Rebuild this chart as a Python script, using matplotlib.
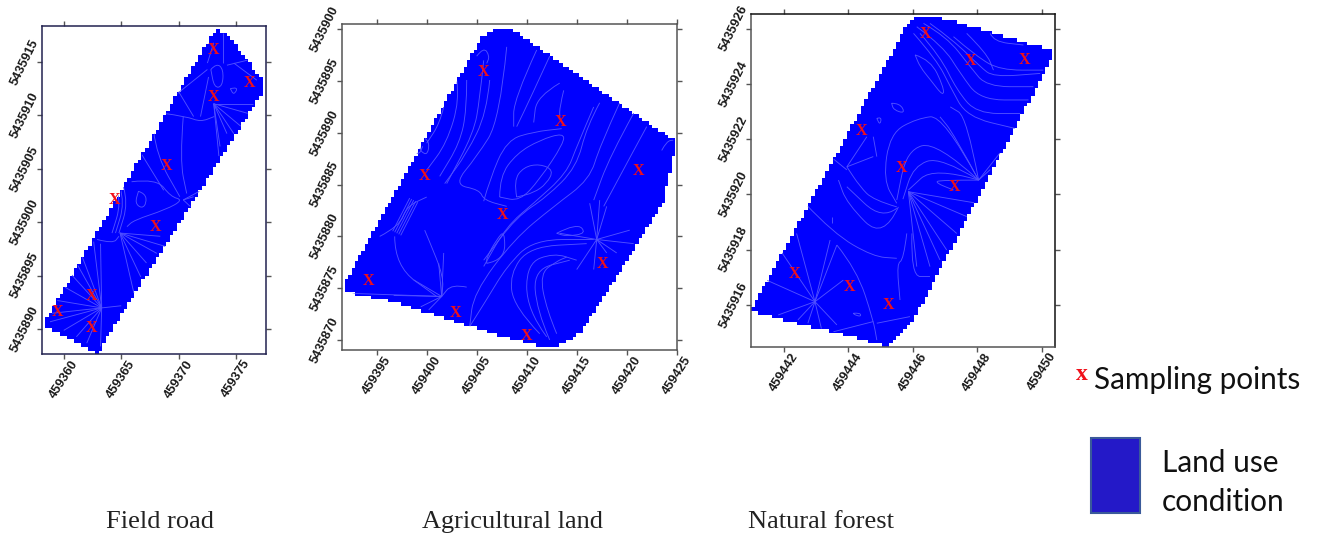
import numpy as np
from matplotlib import pyplot as plt
from matplotlib.colors import ListedColormap
from matplotlib.patches import PathPatch, Polygon, Rectangle
from matplotlib.path import Path

W, H = 1319, 535
BLUE = "#0000ff"
LINE = "#5050ff"
RED = "#f0101a"

# coordinates below are easting - 459000, northing - 5435000
road_outline = [(358.37, 890.72), (358.37, 890.25), (362.94, 887.75), (376.98, 911.6), (377.41, 912.39),
                (377.41, 913.07), (374.22, 917.69), (373.49, 918.0), (373.05, 917.85)]
road_east = [373.05, 376.19, 372.99, 368.92, 364.39, 367.99, 362.41, 359.42, 362.44]
road_north = [916.29, 913.23, 911.92, 905.47, 902.25, 899.76, 893.31, 891.78, 890.31]
road_xticks = [360, 365, 370, 375]
road_yticks = [890, 895, 900, 905, 910, 915]
road_lines = [
    [(368.7, 910.2), (370.7, 909.9), (371.9, 909.4), (373.1, 909.9)],
    [(370.4, 909.9), (370.1, 905.8), (370.7, 902.7)],
    [(367.8, 908.6), (368.1, 906.2), (370.1, 902.4)],
    [(366.7, 906.5), (368.7, 903.0)],
    [(365.9, 903.8), (368.1, 904.1), (369.3, 902.4), (370.4, 902.1), (368.9, 901.2), (366.1, 900.2), (365.5, 899.6)],
    [(366.5, 902.9), (367.1, 902.7), (367.2, 901.8), (366.8, 901.3), (366.2, 901.8), (366.5, 902.9)],
    [(365.2, 903.3), (365.6, 901.8), (364.8, 899.0)],
    [(364.9, 903.3), (365.3, 901.8), (364.5, 899.0)],
    [(364.6, 903.2), (365.0, 901.8), (364.2, 899.0)],
    [(362.9, 898.4), (364.3, 898.0), (364.8, 898.7)],
    [(372.8, 914.3), (373.3, 914.9), (373.9, 914.3), (373.8, 912.7), (373.1, 912.6), (372.8, 914.3)],
    [(374.2, 914.7), (376.1, 915.2)],
    [(374.8, 914.9), (376.8, 913.3)],
    [(372.5, 914.3), (369.6, 911.8)],
    [(369.9, 912.4), (371.3, 909.9)],
    [(372.6, 913.6), (371.9, 909.9)],
    [(373.9, 917.7), (373.9, 914.9)],
    [(373.05, 916.8), (372.5, 914.9)],
    [(374.5, 912.5), (375.2, 912.7), (374.8, 911.9), (374.5, 912.5)],
]
road_fans = [
    ((373.05, 911.1), [(375.4, 909.0), (374.8, 908.3), (374.2, 908.3), (373.6, 907.1), (373.5, 906.2),
                       (376.0, 910.2), (376.5, 911.1)]),
    ((364.9, 899.0), [(368.4, 898.7), (369.0, 897.7), (368.1, 897.1), (367.2, 896.2), (366.7, 894.9),
                      (366.1, 893.4)]),
    ((363.3, 892.0), [(361.1, 896.2), (360.6, 895.2), (360.0, 894.0), (359.4, 892.7), (359.0, 891.5),
                      (358.8, 890.7), (360.0, 889.9), (361.1, 889.3), (362.0, 888.7), (363.2, 888.4),
                      (361.6, 896.8), (362.6, 898.2), (363.2, 898.0), (365.0, 892.2)]),
    ((370.4, 902.1), [(371.3, 902.4), (371.8, 902.9), (371.2, 901.3)]),
]

farm_outline = [(391.83, 875.54), (391.83, 874.67), (396.67, 873.7), (406.0, 870.8), (411.33, 869.36),
                (413.0, 869.36), (415.33, 870.64), (423.67, 883.2), (424.67, 887.86), (424.67, 889.31),
                (424.17, 889.63), (408.33, 900.09), (407.0, 900.09), (405.5, 899.29)]
farm_east = [405.67, 413.33, 399.73, 421.17, 407.53, 417.57, 394.2, 402.87, 410.0]
farm_north = [896.07, 891.24, 886.03, 886.51, 882.29, 877.53, 875.92, 872.8, 870.58]
farm_xticks = [395, 400, 405, 410, 415, 420, 425]
farm_yticks = [870, 875, 880, 885, 890, 895, 900]
farm_lines = [
    [(409, 883.8), (408.7, 885.4), (409.7, 886.7), (411.3, 887), (412.7, 886.4), (412, 885.1), (410.7, 884.2), (409, 883.8)],
    [(407.3, 883.8), (407.3, 885.8), (409, 888), (411.3, 889.3), (413.7, 890), (413.7, 889), (411.3, 885.5), (409.3, 883.4), (407.3, 883.8)],
    [(405.7, 883.4), (406.3, 885.5), (408, 889.3), (410.7, 890.1), (413.5, 890.4)],
    [(405.7, 897), (405.3, 893.2), (404.7, 890), (402, 885.1)],
    [(404, 895.1), (404, 892.2), (403.3, 889), (401.3, 885.8)],
    [(403, 895.1), (403.3, 893.2), (402, 889), (400, 886.4)],
    [(406.3, 895.1), (406, 891.9), (404, 888), (401.8, 885.1)],
    [(408, 898.3), (407.3, 891.2), (405, 887.7), (402.7, 885), (405.3, 884.5), (405.7, 883.5), (408, 882.9)],
    [(411, 898), (408.7, 893.2), (408.7, 890.6)],
    [(412.3, 897.4), (410.3, 893.2), (409, 890.6)],
    [(413.3, 894.8), (411, 893.5), (410.7, 891)],
    [(413.7, 894.1), (413.3, 892.5), (413.3, 891.5)],
    [(417.3, 892.9), (416, 890.6), (415, 886.7), (412, 883.8), (409, 881.9), (405.7, 877.7)],
    [(419.3, 892.9), (417.3, 888.7), (416.3, 885.5), (412.7, 882.9), (408.7, 879.7), (404.7, 874.5), (404.3, 871.3)],
    [(416.7, 892.5), (415, 888.7), (414, 886.1), (410.7, 883.2), (408, 881), (405.7, 877.1)],
    [(420.7, 891.9), (418.3, 887.7), (416.7, 883.5)],
    [(422, 890.6), (420.7, 888.3), (417.7, 882.9)],
    [(406, 877.4), (407.8, 877.7), (407.8, 880.6), (407, 879.7), (406, 878), (406, 877.4)],
    [(396.8, 880), (396.8, 877.1), (401, 874.2)],
    [(399.8, 880.6), (400.2, 879.7), (401.7, 876.1), (401.5, 874.2)],
    [(404, 875.1), (402.5, 875.4), (401.5, 874.2)],
    [(398.7, 883.5), (397, 880.3)],
    [(398.9, 883.4), (397.2, 880.2)],
    [(399.1, 883.3), (397.4, 880.1)],
    [(398.5, 883.6), (396.8, 880.4)],
    [(398.3, 883.7), (396.6, 880.5)],
    [(399.7, 889.6), (399, 888.7), (400, 887.7), (400.3, 889), (399.7, 889.6)],
    [(398.5, 888.2), (399.2, 887.8), (399.6, 888.7)],
    [(413, 870.6), (412, 872.9), (411.3, 876.4), (413, 877.6), (414, 878)],
    [(412.3, 870), (411, 872.9), (410.7, 876.8), (414.3, 877.7)],
    [(412, 870.3), (410, 872.9), (410, 877.4), (412.7, 878.4), (415, 877.7)],
    [(411.3, 870.6), (408.7, 873.2), (408.3, 876.4), (410.3, 879), (416, 879.3)],
    [(404.3, 871.3), (406, 873.9), (408, 877.1), (410.7, 879.7), (416.7, 879.7)],
    [(413, 880.3), (415, 881.3), (416, 880.3), (414, 880), (413, 880.3)],
    [(423.5, 888.3), (424, 889.2), (424.7, 889.3)],
    [(405, 897.4), (405.7, 898.3), (406.3, 897.4), (406, 896.7)],
    [(401.7, 892.5), (401.3, 890.9), (400, 889)],
    [(395.3, 880), (397.3, 881), (398, 882.9), (400, 883.8)],
]
farm_fans = [
    ((401.5, 874.2), [(400.2, 872.9), (399.4, 873.2), (396.7, 874.3), (392.3, 874.5), (401.7, 878.4),
                      (401.2, 877.4), (398.7, 875.8)]),
    ((417, 879.7), [(417.3, 883.5), (416.3, 883.2), (418, 882.9), (420.3, 880.6), (420.7, 879.3),
                    (419, 878.4), (418, 878.4), (416.7, 876.8), (415, 876.8), (413.3, 880.3)]),
]

forest_outline = [(440.98, 915.82), (441.98, 915.43), (443.53, 915.03), (445.19, 914.49), (446.02, 915.46),
                  (450.31, 924.93), (450.31, 925.2), (449.74, 925.41), (446.84, 926.41), (446.12, 926.41),
                  (445.86, 926.22)]
forest_east = [446.4, 447.78, 449.45, 444.41, 445.66, 447.29, 442.31, 444.04, 445.25]
forest_north = [925.88, 924.91, 924.94, 922.37, 921.03, 920.34, 917.19, 916.72, 916.08]
forest_xticks = [442, 444, 446, 448, 450]
forest_yticks = [916, 918, 920, 922, 924, 926]
forest_lines = [
    [(446.53, 926.19), (447.26, 925.58), (448.09, 924.62), (448.5, 924.25), (449.95, 924.38)],
    [(446.33, 926.19), (447.05, 925.71), (447.78, 924.62), (448.29, 923.9), (449.74, 923.9)],
    [(446.12, 926.07), (446.95, 925.35), (447.47, 924.38), (448.09, 923.42), (449.59, 923.42)],
    [(446.22, 925.83), (446.85, 925), (447.36, 923.78), (447.98, 922.93), (449.33, 922.93)],
    [(446.02, 925.83), (446.74, 924.87), (447.16, 923.9), (447.67, 922.81), (449.17, 922.39)],
    [(447.26, 925.71), (447.98, 924.99), (448.71, 924.5), (450.05, 924.5)],
    [(447.67, 925.83), (448.29, 925.11), (448.5, 924.5)],
    [(448.4, 925.83), (448.5, 925.53), (449.43, 925.41)],
    [(446.07, 925.05), (446.55, 924.87), (446.95, 923.9), (446.95, 923.54), (446.55, 924.14), (446.22, 924.62), (446.07, 925.05)],
    [(445.34, 923.3), (445.6, 923.3), (445.76, 922.93), (445.4, 923.06), (445.34, 923.3)],
    [(448.04, 920.52), (446.64, 921), (445.86, 920.16)],
    [(448.04, 920.52), (446.86, 921.37), (446.02, 921.03), (445.69, 919.83)],
    [(448.04, 920.52), (446.74, 921.91), (445.81, 921.61), (445.5, 919.8)],
    [(448.04, 920.52), (446.95, 922.87), (446.12, 922.75), (445.29, 922.21), (445.08, 920.52), (445.5, 919.68)],
    [(448.04, 920.52), (447.26, 922.21), (446.84, 922.81)],
    [(448.04, 920.52), (447.67, 922.81), (447.16, 923.17)],
    [(448.04, 920.52), (446.84, 920.52), (446.69, 920.43), (447.26, 920.16)],
    [(445.81, 918.59), (445.71, 917.63), (445.5, 917.51), (445.6, 916.18)],
    [(445.97, 918.59), (445.93, 917.03), (446.53, 917.03)],
    [(445.5, 919.55), (444.77, 919.8), (444.36, 920.28), (443.95, 921.0)],
    [(445.5, 919.5), (445.04, 919.08), (443.95, 920.28)],
    [(445.55, 919.55), (445.08, 918.35), (443.95, 919.68), (443.69, 920.52)],
    [(443.95, 921.0), (444.57, 922.09)],
    [(443.38, 921.43), (443.95, 920.89)],
    [(443.95, 921), (444.77, 921.37)],
    [(444.77, 922.09), (444.88, 921.37)],
    [(444.88, 922.75), (445.03, 922.82), (444.98, 922.51), (444.88, 922.75)],
    [(442.65, 919.68), (443.53, 918.59), (444.77, 917.75), (445.5, 917.69)],
    [(443.5, 919.2), (443.5, 918.95)],
    [(443.64, 918.17), (444.26, 917.27), (444.77, 915.46), (444.88, 914.73)],
    [(444.88, 915.34), (445.91, 915.58)],
    [(443.53, 915.03), (444.77, 915.4)],
    [(444.15, 915.7), (444.36, 915.72), (444.39, 915.58), (444.2, 915.64), (444.15, 915.7)],
]
forest_fans = [
    ((448.04, 920.52), [(448.4, 920.9), (448.7, 921.5)]),
    ((445.86, 920.1), [(446.84, 917.63), (447.05, 917.99), (447.36, 918.59), (447.67, 919.2), (446.53, 917.39),
                       (446.12, 917.39), (447.9, 919.7)]),
    ((442.96, 916.12), [(441.88, 917.99), (442.39, 918.59), (443.43, 918.35), (443.64, 918.17), (441.46, 916.9),
                        (441.82, 915.64), (442.43, 915.46), (442.74, 915.34), (443.16, 915.15), (443.64, 915.28),
                        (443.84, 916.9)]),
]


def curve(points):
    # read points act as bezier controls, so contours bend instead of kinking
    verts = [points[0]]
    codes = [Path.MOVETO]
    for a, b in zip(points[1:-1], points[2:]):
        verts += [a, ((a[0] + b[0]) / 2, (a[1] + b[1]) / 2)]
        codes += [Path.CURVE3, Path.CURVE3]
    verts.append(points[-1])
    codes.append(Path.LINETO)
    return Path(verts, codes)


def draw_map(box, xlim, ylim, cell, outline, east, north, xticks, yticks, lines, fans, side_color, top_color):
    left, top, right, bottom = box
    ax = fig.add_axes([left / W, 1 - bottom / H, (right - left) / W, (bottom - top) / H])
    # stepped edge comes from masking a coarse grid with the outline
    xs = np.arange(xlim[0], xlim[1] + cell[0], cell[0])
    ys = np.arange(ylim[0], ylim[1] + cell[1], cell[1])
    cx, cy = np.meshgrid((xs[:-1] + xs[1:]) / 2, (ys[:-1] + ys[1:]) / 2)
    inside = Path(outline).contains_points(np.column_stack([cx.ravel(), cy.ravel()])).reshape(cx.shape)
    ax.pcolormesh(xs, ys, np.ma.masked_where(~inside, np.ones_like(cx)), cmap=ListedColormap([BLUE]))
    segs = list(lines)
    for hub, ends in fans:
        segs += [[hub, end] for end in ends]
    clip = Polygon(outline, transform=ax.transData)
    for seg in segs:
        patch = PathPatch(curve(seg), fill=False, edgecolor=LINE, linewidth=0.65)
        ax.add_patch(patch)
        patch.set_clip_path(clip)
    for x, y in zip(east, north):
        ax.text(x, y, "X", color=RED, family="Liberation Serif", weight="bold", fontsize=11.5,
                ha="center", va="center_baseline")
    ax.set_xlim(xlim)
    ax.set_ylim(ylim)
    ax.set_xticks(xticks, [str(459000 + v) for v in xticks])
    ax.set_yticks(yticks, [str(5435000 + v) for v in yticks])
    ax.tick_params(top=True, right=True, length=3.6, width=1, color="#555555")
    ax.tick_params(axis="x", pad=-1)
    ax.tick_params(axis="y", pad=-3)
    for lab in ax.get_xticklabels():
        lab.set(rotation=57, family="Liberation Sans", weight="bold", fontsize=9.2, color="#1a1a1a")
    for lab in ax.get_yticklabels():
        lab.set(rotation=64, va="center", family="Liberation Sans", weight="bold", fontsize=9.2,
                color="#1a1a1a")
    for name, spine in ax.spines.items():
        spine.set_color(top_color if name in ("top", "right") else side_color)
        spine.set_linewidth(1.1)
    return ax


fig = plt.figure(figsize=(W / 100, H / 100), dpi=100)
draw_map((41.7, 26.3, 266, 354.3), (358.08, 377.6), (887.66, 918.34), (0.31, 0.35),
         road_outline, road_east, road_north, road_xticks, road_yticks, road_lines, road_fans, "#22224f", "#22224f")
draw_map((341.7, 24.3, 676.7, 350.3), (391.5, 425), (869, 900.48), (0.33, 0.33),
         farm_outline, farm_east, farm_north, farm_xticks, farm_yticks, farm_lines, farm_fans, "#555555", "#555555")
draw_map((751, 14.3, 1055.3, 347), (440.975, 450.42), (914.48, 926.52), (0.11, 0.13),
         forest_outline, forest_east, forest_north, forest_xticks, forest_yticks, forest_lines, forest_fans, "#555555", "#111111")

# captions and the hand-made legend, placed in figure pixels
for x, text in [(160, "Field road"), (513, "Agricultural land"), (821, "Natural forest")]:
    fig.text(x / W, 1 - 522 / H, text, family="Liberation Serif", fontsize=19, color="#222222",
             ha="center", va="center")
fig.text(1082 / W, 1 - 375 / H, "x", family="Liberation Serif", weight="bold", fontsize=17, color=RED,
         ha="center", va="center")
fig.text(1094 / W, 1 - 380 / H, "Sampling points", family="Lato", fontsize=21.4, color="#111111", va="center")
fig.text(1162 / W, 1 - 463 / H, "Land use", family="Lato", fontsize=21.4, color="#111111", va="center")
fig.text(1162 / W, 1 - 502 / H, "condition", family="Lato", fontsize=21.4, color="#111111", va="center")
fig.add_artist(Rectangle((1091 / W, 1 - 513 / H), 49 / W, 75 / H, transform=fig.transFigure,
                         facecolor="#2419c8", edgecolor="#3a5a9a", linewidth=1.5))
fig.savefig("out.png", dpi=100)
